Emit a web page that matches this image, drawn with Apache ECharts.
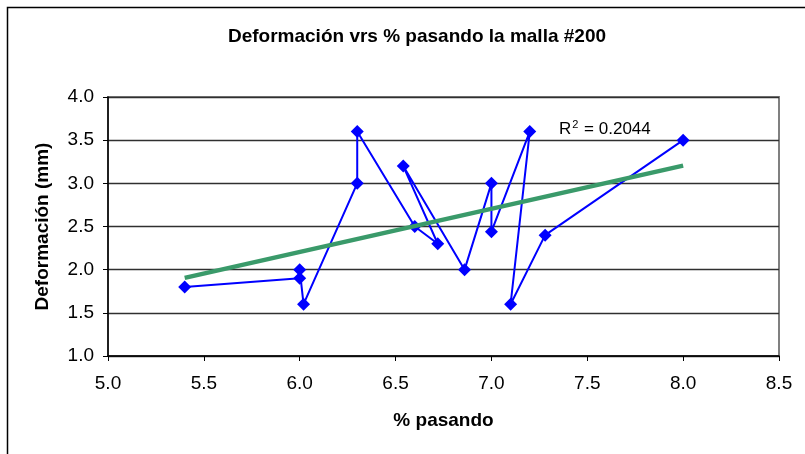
<!DOCTYPE html>
<html>
<head>
<meta charset="utf-8">
<script src="https://cdn.jsdelivr.net/npm/echarts@6/dist/echarts.min.js"></script>
<style>
  html, body { margin: 0; padding: 0; background: #fff; }
  #chart { width: 805px; height: 454px; }
</style>
</head>
<body>
<div id="chart"></div>
<script>
// Measured samples, in the order they were recorded (the line follows this order)
const pasando = [5.4, 6.0, 6.0, 6.02, 6.3, 6.3, 6.6, 6.72, 6.54, 6.86, 7.0, 7.0, 7.2, 7.1, 7.28, 8.0];
const deformacion = [1.8, 1.9, 2.0, 1.6, 3.0, 3.6, 2.5, 2.3, 3.2, 2.0, 3.0, 2.44, 3.6, 1.6, 2.4, 3.5];
const r2Text = '0.2044';

const titleText = 'Deformación vrs % pasando la malla #200';
const xName = '% pasando';
const yName = 'Deformación (mm)';

const FONT = '"Liberation Sans", Arial, sans-serif';

const points = pasando.map((x, i) => [x, deformacion[i]]);

// Least-squares linear trend over the samples
const n = pasando.length;
const mx = pasando.reduce((a, b) => a + b, 0) / n;
const my = deformacion.reduce((a, b) => a + b, 0) / n;
let sxy = 0, sxx = 0;
for (let i = 0; i < n; i++) {
  sxy += (pasando[i] - mx) * (deformacion[i] - my);
  sxx += (pasando[i] - mx) * (pasando[i] - mx);
}
const slope = sxy / sxx;
const intercept = my - slope * mx;
const xMin = Math.min(...pasando), xMax = Math.max(...pasando);
const trend = [[xMin, intercept + slope * xMin], [xMax, intercept + slope * xMax]];

const chart = echarts.init(document.getElementById('chart'), null, { renderer: 'canvas' });

chart.setOption({
  animation: false,
  backgroundColor: '#ffffff',
  title: {
    text: titleText,
    left: 412,
    top: 22,
    textAlign: 'center',
    textStyle: { fontFamily: FONT, fontSize: 19, fontWeight: 'bold', color: '#000' }
  },
  grid: {
    left: 108, right: 26, top: 97, bottom: 98,
    show: true, borderColor: '#808080', borderWidth: 2, backgroundColor: '#fff'
  },
  xAxis: {
    type: 'value', min: 5, max: 8.5, interval: 0.5,
    name: xName, nameLocation: 'middle', nameGap: 55,
    nameTextStyle: { fontFamily: FONT, fontSize: 19, fontWeight: 'bold', color: '#000' },
    axisLine: { show: true, onZero: false, lineStyle: { color: '#000', width: 1.5 } },
    axisTick: { show: true, inside: false, length: 5, lineStyle: { color: '#000', width: 1 } },
    axisLabel: { margin: 18, fontFamily: FONT, fontSize: 19, color: '#000',
      formatter: v => v.toFixed(1) },
    splitLine: { show: false }
  },
  yAxis: {
    type: 'value', min: 1, max: 4, interval: 0.5,
    name: yName, nameLocation: 'middle', nameGap: 56, nameRotate: 90,
    nameTextStyle: { fontFamily: FONT, fontSize: 19, fontWeight: 'bold', color: '#000' },
    axisLine: { show: true, onZero: false, lineStyle: { color: '#000', width: 1.5 } },
    axisTick: { show: true, inside: false, length: 5, lineStyle: { color: '#000', width: 1 } },
    axisLabel: { margin: 14, fontFamily: FONT, fontSize: 19, color: '#000',
      formatter: v => v.toFixed(1) },
    splitLine: { show: true, lineStyle: { color: '#303030', width: 1.3 } }
  },
  series: [
    {
      name: 'Deformación',
      type: 'line',
      data: points,
      symbol: 'diamond',
      symbolSize: 13,
      showAllSymbol: true,
      itemStyle: { color: '#0000ff' },
      lineStyle: { color: '#0000ff', width: 2 },
      z: 3
    },
    {
      name: 'Tendencia',
      type: 'line',
      data: trend,
      symbol: 'none',
      lineStyle: { color: '#3a9a6a', width: 4.5 },
      z: 4
    }
  ],
  graphic: [
    {
      type: 'rect',
      shape: { x: 7.5, y: 7.5, width: 900, height: 600 },
      style: { fill: 'none', stroke: '#000', lineWidth: 1.5 },
      silent: true, z: 100
    },
    {
      type: 'text',
      left: 559, top: 119,
      style: {
        text: '{r|R}{s|2}{r| = ' + r2Text + '}',
        rich: {
          r: { fontFamily: FONT, fontSize: 17, fill: '#000', verticalAlign: 'bottom' },
          s: { fontFamily: FONT, fontSize: 11, fill: '#000', verticalAlign: 'top', padding: [0, 1, 8, 1] }
        }
      },
      z: 100
    }
  ]
});
</script>
</body>
</html>
